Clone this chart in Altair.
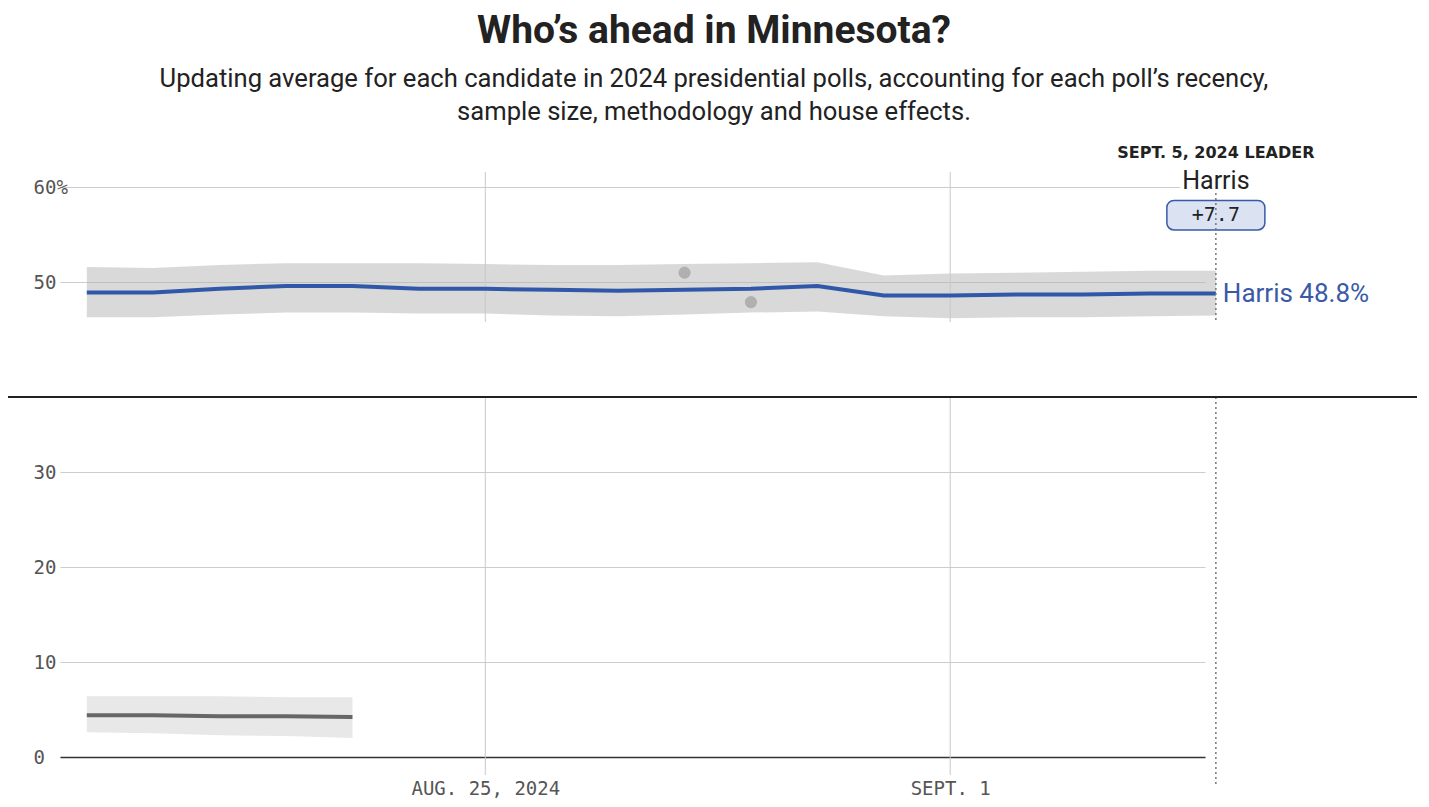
import altair as alt
import pandas as pd

# ---------------- data ----------------
dates = ["2024-08-19", "2024-08-20", "2024-08-21", "2024-08-22", "2024-08-23",
         "2024-08-24", "2024-08-25", "2024-08-26", "2024-08-27", "2024-08-28",
         "2024-08-29", "2024-08-30", "2024-08-31", "2024-09-01", "2024-09-02",
         "2024-09-03", "2024-09-04", "2024-09-05"]
harris_avg = [48.9, 48.9, 49.3, 49.6, 49.6, 49.3, 49.3, 49.2, 49.1, 49.2,
              49.3, 49.6, 48.6, 48.6, 48.7, 48.7, 48.8, 48.8]
harris_hi = [51.6, 51.5, 51.8, 52.0, 52.0, 52.0, 51.9, 51.8, 51.8, 51.9,
             52.0, 52.1, 50.7, 50.9, 51.0, 51.1, 51.2, 51.2]
harris_lo = [46.3, 46.3, 46.6, 46.8, 46.8, 46.7, 46.7, 46.5, 46.4, 46.6,
             46.8, 46.9, 46.4, 46.2, 46.3, 46.3, 46.4, 46.5]

other_dates = ["2024-08-19", "2024-08-20", "2024-08-21", "2024-08-22", "2024-08-23"]
other_avg = [4.4, 4.4, 4.3, 4.3, 4.2]
other_hi = [6.4, 6.4, 6.4, 6.3, 6.3]
other_lo = [2.6, 2.5, 2.3, 2.2, 2.0]

poll_dates = ["2024-08-28", "2024-08-29"]
poll_values = [51.0, 47.9]

grid_dates = ["2024-08-25", "2024-09-01"]
leader_date = "2024-09-05"
leader_name = "Harris"
leader_margin = "+7.7"
leader_value = 48.8

title_text = "Who’s ahead in Minnesota?"
subtitle_lines = ["Updating average for each candidate in 2024 presidential polls, accounting for each poll’s recency,",
                  "sample size, methodology and house effects."]

# ---------------- tables ----------------
def ms(s):
    return int(pd.Timestamp(s, tz="UTC").value // 10**6)


harris_df = pd.DataFrame({"date": [ms(d) for d in dates], "avg": harris_avg,
                          "hi": harris_hi, "lo": harris_lo})
other_df = pd.DataFrame({"date": [ms(d) for d in other_dates], "avg": other_avg,
                         "hi": other_hi, "lo": other_lo})
polls_df = pd.DataFrame({"date": [ms(d) for d in poll_dates], "value": poll_values})
vgrid_df = pd.DataFrame({
    "date": [ms(d) for d in grid_dates + grid_dates],
    "y1": [61.6, 61.6, 37.9, 37.9],
    "y2": [45.8, 45.8, -1.9, -1.9],
})
dotted_df = pd.DataFrame({"date": [ms(leader_date)] * 2, "y1": [59.4, 37.9], "y2": [45.8, -2.9]})
leader_df = pd.DataFrame({"date": [ms(leader_date)], "value": [leader_value],
                          "label": [f"{leader_name} {leader_value}%"],
                          "name": [leader_name], "margin": [leader_margin],
                          "head": ["SEPT. 5, 2024 LEADER"],
                          "box_top": [58.6], "box_bot": [55.5], "box_mid": [57.05],
                          "name_y": [60.7], "head_y": [63.6]})

W, H = 1145, 585
MONO = "DejaVu Sans Mono"
SANS = "Roboto"

xscale = alt.Scale(type="utc", nice=False,
                   domain=[ms("2024-08-18 16:07"), ms("2024-09-04 18:16")])
yscale = alt.Scale(domain=[0, 61.6], nice=False, zero=False)

xaxis = alt.Axis(
    values=[ms(d) for d in grid_dates],
    labelExpr="utcFormat(datum.value, '%d') == '25' ? 'AUG. 25, 2024' : 'SEPT. 1'",
    title=None, grid=False, ticks=False, domain=True, domainColor="#333",
    domainWidth=1.5, labelFont=MONO, labelFontSize=19, labelColor="#555",
    labelPadding=22)
yaxis = alt.Axis(
    values=[0, 10, 20, 30, 50, 60],
    labelExpr="datum.value == 60 ? '60%' : datum.label",
    title=None, grid=True, gridColor="#cccccc", gridWidth=1, ticks=False,
    domain=False, labelFont=MONO, labelFontSize=19, labelColor="#555",
    labelAlign="left", labelPadding=27, labelBaseline="middle")


def X(field="date"):
    return alt.X(f"{field}:T", scale=xscale, axis=xaxis)


def Y(field):
    return alt.Y(f"{field}:Q", scale=yscale, axis=yaxis)


band_h = alt.Chart(harris_df).mark_area(color="#b4b4b4", opacity=0.5).encode(
    x=X(), y=Y("hi"), y2="lo")
band_o = alt.Chart(other_df).mark_area(color="#e8e8e8", opacity=1).encode(
    x=X(), y=Y("hi"), y2="lo")
vgrid = alt.Chart(vgrid_df).mark_rule(color="#c8c8c8", strokeWidth=1).encode(
    x=X(), y=Y("y1"), y2="y2")
line_h = alt.Chart(harris_df).mark_line(color="#3057a8", strokeWidth=4).encode(
    x=X(), y=Y("avg"))
line_o = alt.Chart(other_df).mark_line(color="#666666", strokeWidth=4).encode(
    x=X(), y=Y("avg"))
polls = alt.Chart(polls_df).mark_circle(size=130, color="#aaaaaa", opacity=0.85,
                                        stroke="#999999", strokeWidth=0.5).encode(
    x=X(), y=Y("value"))
box = alt.Chart(leader_df).mark_bar(width=98, cornerRadius=7, fill="#dbe3f3",
                                    stroke="#3a5aa8", strokeWidth=1.5).encode(
    x=X(), y=Y("box_top"), y2="box_bot")
dotted = alt.Chart(dotted_df).mark_rule(color="#777777", strokeWidth=1.5,
                                        strokeDash=[2, 3]).encode(
    x=X(), y=Y("y1"), y2="y2")
margin_txt = alt.Chart(leader_df).mark_text(font=MONO, fontSize=20, color="#222",
                                            baseline="middle", align="center").encode(
    x=X(), y=Y("box_mid"), text="margin:N")
name_halo = alt.Chart(leader_df).mark_text(font=SANS, fontSize=25, color="#fff",
                                           stroke="#fff", strokeWidth=8,
                                           baseline="middle", align="center").encode(
    x=X(), y=Y("name_y"), text="name:N")
name_txt = alt.Chart(leader_df).mark_text(font=SANS, fontSize=25, color="#222",
                                          baseline="middle", align="center").encode(
    x=X(), y=Y("name_y"), text="name:N")
head_txt = alt.Chart(leader_df).mark_text(font="DejaVu Sans", fontSize=16,
                                          fontWeight="bold", color="#222",
                                          baseline="middle", align="center").encode(
    x=X(), y=Y("head_y"), text="head:N")
end_lbl = alt.Chart(leader_df).mark_text(font=SANS, fontSize=26, color="#3a5aa8",
                                         baseline="middle", align="left", dx=7).encode(
    x=X(), y=Y("value"), text="label:N")

# page decorations (title block and separator bar)
sep = alt.Chart(harris_df).mark_rule(color="#222", strokeWidth=1.5).encode(
    x=alt.value(-60), x2=alt.value(W + 260), y=alt.value(225))
title = alt.Chart(pd.DataFrame({"t": [title_text]})).mark_text(
    font=SANS, fontSize=39, fontWeight="bold", color="#222", align="center",
    baseline="middle").encode(x=alt.value(654), y=alt.value(-141), text="t:N")
sub1 = alt.Chart(pd.DataFrame({"t": [subtitle_lines[0]]})).mark_text(
    font=SANS, fontSize=25.6, color="#222", align="center", baseline="middle").encode(
    x=alt.value(654), y=alt.value(-93), text="t:N")
sub2 = alt.Chart(pd.DataFrame({"t": [subtitle_lines[1]]})).mark_text(
    font=SANS, fontSize=25.6, color="#222", align="center", baseline="middle").encode(
    x=alt.value(654), y=alt.value(-60), text="t:N")

chart = alt.layer(
    band_o, band_h, vgrid, line_o, line_h, polls, box, dotted, margin_txt,
    name_halo, name_txt, head_txt, end_lbl, sep, title, sub1, sub2
).properties(
    width=W, height=H,
    autosize=alt.AutoSizeParams(type="none"),
    padding={"left": 52, "top": 164, "right": 212, "bottom": 42},
).configure_view(stroke=None)

chart.save("out.html", embed_options={"renderer": "svg", "actions": False})
